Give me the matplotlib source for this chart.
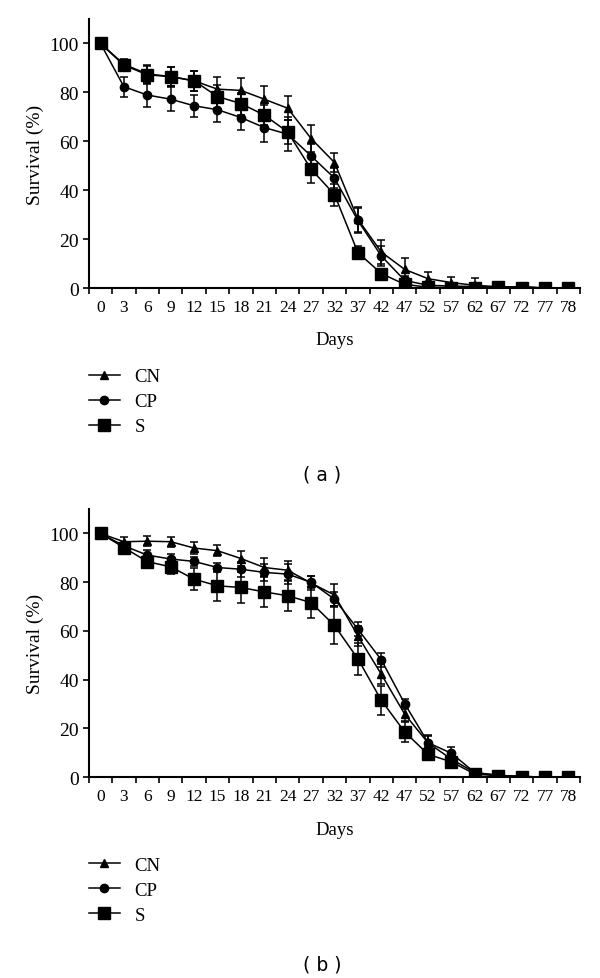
import matplotlib
matplotlib.use("Agg")
import matplotlib.pyplot as plt
from matplotlib.lines import Line2D

# categorical x axis, as in the original spreadsheet chart
days = ["0", "3", "6", "9", "12", "15", "18", "21", "24", "27", "32",
        "37", "42", "47", "52", "57", "62", "67", "72", "77", "78"]

# panel (a)
cn_a = [100, 91.5, 87.5, 86.5, 84.7, 81.3, 80.8, 77.2, 73.5, 61.1, 51.3,
        28.1, 14.7, 7.6, 3.8, 2.2, 1.1, 0.5, 0.5, 0, 0]
cn_a_err = [0, 2, 3.5, 4, 4, 5, 5, 5.5, 5, 5.5, 4,
            5, 5, 4.5, 2.6, 2.5, 3, 0.5, 0.5, 0, 0]
cp_a = [100, 82.3, 78.9, 77.2, 74.5, 72.9, 69.7, 65.6, 62.9, 54, 44.9,
        27.6, 13.1, 3.1, 1.1, 0.8, 0.6, 0.5, 0.5, 0, 0]
cp_a_err = [0, 4, 4.7, 5, 4.5, 5, 5, 6, 7, 5, 4,
            5, 4, 2, 1, 1, 0.5, 0.3, 0.3, 0, 0]
s_a = [100, 91.1, 87.2, 86.4, 84.7, 78.3, 75.4, 70.7, 63.8, 48.6, 38.2,
       14.5, 5.9, 1.5, 0.3, 0.2, 0.2, 0.3, 0, 0, 0]
s_a_err = [0, 2, 3.5, 4, 4, 4.5, 4.5, 4, 5, 5.5, 4.5,
           2.5, 1.5, 1, 0.5, 0.5, 0.3, 0.3, 0, 0, 0]

# panel (b)
cn_b = [100, 96.6, 96.8, 96.6, 94, 92.9, 89.7, 86, 84.9, 79.6, 74.7,
        57.9, 42.2, 25.8, 14, 7.3, 1.8, 0.7, 0.2, 0, 0]
cn_b_err = [0, 2, 2, 2, 2.5, 2.3, 3, 4, 3.9, 3, 4.5,
            4, 4, 3, 3, 2.5, 1, 0.5, 0.2, 0, 0]
cp_b = [100, 94.9, 91.1, 89.5, 88.5, 86, 85.3, 84, 83.3, 79.9, 73,
        60.7, 48.1, 30.1, 14.1, 9.7, 1.8, 0.7, 0.2, 0, 0]
cp_b_err = [0, 1.5, 2, 2, 2, 2, 3, 3.5, 4, 2.5, 3,
            3, 3, 2, 3, 2.5, 1, 0.5, 0.2, 0, 0]
s_b = [100, 94.2, 88.4, 86.3, 81.2, 78.5, 77.8, 76, 74.4, 71.6, 62.2,
       48.5, 31.5, 18.5, 9.3, 6.2, 1.2, 0.5, 0.2, 0, 0]
s_b_err = [0, 2, 2.5, 3, 4.5, 6.2, 6.2, 6.4, 6.2, 6.5, 7.4,
           6.7, 6, 4, 2, 2, 1, 0.5, 0.2, 0, 0]

labels = ["CN", "CP", "S"]
markers = ["^", "o", "s"]
msizes = [5.5, 6, 8]

plt.rcParams['font.family'] = ['Liberation Serif', 'DejaVu Serif']

fig = plt.figure(figsize=(6, 9.79), dpi=100)


def panel(rect, series, errs, tag, days_y, leg_y, tag_y):
    ax = fig.add_axes(rect)
    x = list(range(len(days)))
    for vals, err, m, ms in zip(series, errs, markers, msizes):
        ax.errorbar(x, vals, yerr=err, color="black", marker=m, ms=ms,
                    lw=1.1, elinewidth=1.1, capsize=3, capthick=1.1)
    ax.set_xlim(-0.5, len(days) - 0.5)
    ax.set_ylim(0, 110)
    ax.set_yticks([0, 20, 40, 60, 80, 100])
    ax.set_xticks([i - 0.5 for i in range(len(days) + 1)])
    ax.set_xticklabels([])
    ax.set_xticks(x, minor=True)
    ax.set_xticklabels(days, minor=True)
    ax.tick_params(axis="x", which="minor", length=0, pad=8, labelsize=12.5)
    ax.tick_params(axis="x", which="major", length=4, width=1.2, direction="out")
    ax.tick_params(axis="y", length=4, width=1.2, labelsize=14, pad=3)
    for s in ["top", "right"]:
        ax.spines[s].set_visible(False)
    for s in ["left", "bottom"]:
        ax.spines[s].set_linewidth(1.5)
    ax.set_ylabel("Survival (%)", fontsize=14, labelpad=4)
    fig.text(0.558, days_y, "Days", ha="center", va="center", fontsize=13.5)
    handles = [Line2D([], [], color="black", marker=m, ms=ms, lw=1.1)
               for m, ms in zip(markers, msizes)]
    fig.legend(handles, labels, loc="upper left", bbox_to_anchor=(0.148, leg_y),
               frameon=False, fontsize=13.5, handlelength=1.65, handletextpad=0.8,
               labelspacing=0.42, borderpad=0, borderaxespad=0)
    fig.text(0.537, tag_y, tag, ha="center", va="center", fontsize=13.5,
             family=["DejaVu Sans"])
    return ax


panel([0.148, 0.7048, 0.819, 0.2748], [cn_a, cp_a, s_a],
      [cn_a_err, cp_a_err, s_a_err], "( a )", 0.652, 0.623, 0.515)
panel([0.148, 0.2053, 0.819, 0.2737], [cn_b, cp_b, s_b],
      [cn_b_err, cp_b_err, s_b_err], "( b )", 0.152, 0.124, 0.014)

fig.savefig("out.png", dpi=100)
